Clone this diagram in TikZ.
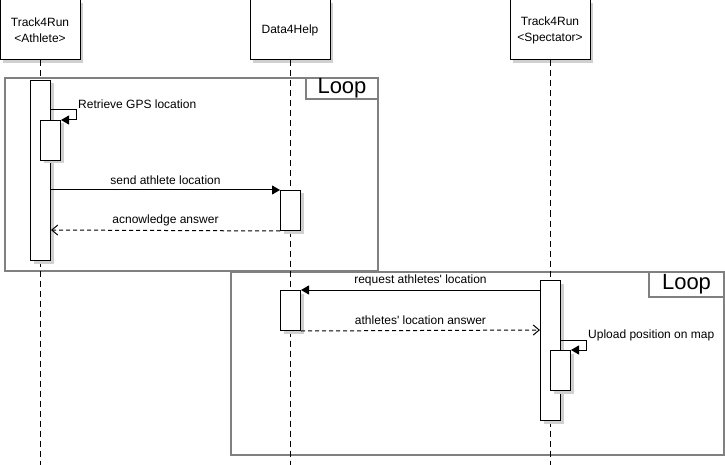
\documentclass[tikz,border=0pt]{standalone}
\usepackage{fontspec}
\setmainfont{Liberation Sans}
\usetikzlibrary{arrows.meta,shadows}
\definecolor{framegray}{HTML}{808080}
\definecolor{shadowgray}{HTML}{D0D0D0}
\begin{document}
\begin{tikzpicture}[x=1pt,y=-1pt,
  every node/.style={font=\fontsize{12}{16}\selectfont},
  boxshadow/.style={drop shadow={shadow xshift=3pt,shadow yshift=-3pt,fill=shadowgray,opacity=1}},
  participant/.style={draw,fill=white,line width=1pt,minimum width=80pt,minimum height=60pt,inner sep=0pt,align=center,boxshadow},
  actbar/.style={draw,fill=white,line width=1pt,minimum width=20pt,inner sep=0pt,anchor=north west,boxshadow},
  lifeline/.style={line width=1pt,dash pattern=on 6pt off 4pt},
  frame/.style={draw=framegray,line width=2pt,inner sep=0pt,anchor=north west},
  looplabel/.style={draw=framegray,line width=2pt,fill=white,inner sep=0pt,anchor=north east,font=\fontsize{22}{26}\selectfont},
  msg/.style={line width=1pt,-{Triangle[length=8pt,width=9pt]}},
  reply/.style={line width=1pt,dash pattern=on 4pt off 3pt,-{Straight Barb[length=6pt,width=10pt]}},
  msglabel/.style={midway,yshift=10pt},
  selflabel/.style={anchor=west,inner sep=0pt}
]
\useasboundingbox (0,0) rectangle (725,465);
% loop frames
\node[frame,minimum width=373pt,minimum height=193pt] (loop1) at (4,77) {};
\node[frame,minimum width=493pt,minimum height=183pt] (loop2) at (230,271) {};
\node[looplabel,minimum width=72pt,minimum height=21pt] (loop1lbl) at (loop1.north east) {Loop};
\node[looplabel,minimum width=75pt,minimum height=25pt] (loop2lbl) at (loop2.north east) {Loop};
% participants
\node[participant] (ath) at (40,30) {Track4Run\\<Athlete>};
\node[participant] (dat) at (290,30) {Data4Help};
\node[participant] (spe) at (550,30) {Track4Run\\<Spectator>};
\coordinate (athEnd) at (40,466);
\coordinate (datEnd) at (290,466);
\coordinate (speEnd) at (550,466);
\draw[lifeline] (ath.south) -- (athEnd);
\draw[lifeline] (dat.south) -- (datEnd);
\draw[lifeline] (spe.south) -- (speEnd);
% activation bars
\node[actbar,minimum height=180pt] (athA) at (30,80) {};
\node[actbar,minimum height=40pt] (athB) at (40,120) {};
\node[actbar,minimum height=40pt] (datA) at (280,190) {};
\node[actbar,minimum height=40pt] (datB) at (280,290) {};
\node[actbar,minimum height=140pt] (speA) at (540,280) {};
\node[actbar,minimum height=40pt] (speB) at (550,350) {};
% messages loop 1
\draw[msg] ([yshift=-30pt]athA.north east) -| ([xshift=15pt]athB.north east) -- (athB.north east);
\node[selflabel] (gpslbl) at (78,104) {Retrieve GPS location};
\draw[msg] ([yshift=-110pt]athA.north east) -- (datA.north west) node[msglabel] (sendlbl) {send athlete location};
\draw[reply] (datA.south west) -- ([yshift=-150pt]athA.north east) node[msglabel] (acklbl) {acnowledge answer};
% messages loop 2
\draw[msg] ([yshift=-10pt]speA.north west) -- (datB.north east) node[msglabel] (reqlbl) {request athletes\textquotesingle{} location};
\draw[reply] (datB.south east) -- ([yshift=-50pt]speA.north west) node[msglabel] (anslbl) {athletes\textquotesingle{} location answer};
\draw[msg] ([yshift=-60pt]speA.north east) -| ([xshift=15pt]speB.north east) -- (speB.north east);
\node[selflabel] (uplbl) at (588,335) {Upload position on map};
\end{tikzpicture}
\end{document}
